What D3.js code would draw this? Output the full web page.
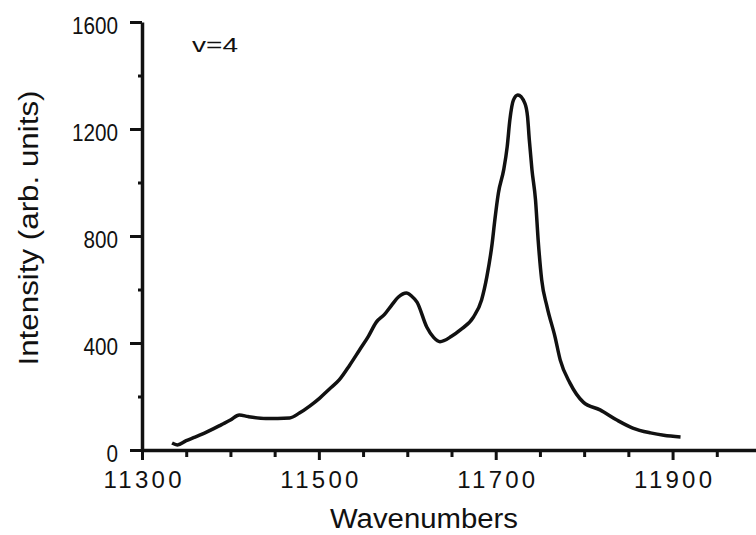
<!DOCTYPE html>
<html>
<head>
<meta charset="utf-8">
<script src="https://cdn.jsdelivr.net/npm/d3@7"></script>
<style>
  body { margin: 0; background: #fff; }
  svg text { font-family: "Liberation Sans Narrow", "Arial Narrow", "Liberation Sans", Arial, sans-serif; fill: #111; }
</style>
</head>
<body>
<div id="chart"></div>
<script>
// spectrum, wavenumber / intensity
const wavenumbers = [
  11334, 11340, 11350, 11360, 11370, 11380, 11390, 11400, 11410, 11420,
  11440, 11467, 11478, 11490, 11501, 11512, 11523, 11535, 11546, 11556,
  11565, 11574, 11582, 11590, 11599, 11605, 11611, 11622, 11630, 11637,
  11650, 11660, 11675, 11684, 11690, 11696, 11699, 11703, 11709, 11713,
  11716, 11720, 11725, 11733, 11736, 11738, 11741, 11745, 11748, 11752,
  11758, 11767, 11773, 11784, 11799, 11818, 11837, 11855, 11875, 11890,
  11909,
];
const intensity = [
  26, 19, 35, 48, 62, 78, 95, 112, 131, 125,
  118, 120, 138, 165, 194, 228, 262, 318, 374, 425,
  478, 506, 540, 572, 587, 575, 553, 460, 420, 405,
  425, 449, 498, 561, 648, 773, 860, 960, 1047, 1134,
  1234, 1308, 1327, 1296, 1246, 1159, 1047, 935, 785, 636,
  536, 424, 336, 250, 179, 150, 112, 82, 64, 55,
  49,
];
const xMajorTicks = [11300, 11500, 11700, 11900];
const xMinorTicks = [11350, 11400, 11450, 11550, 11600, 11650, 11750, 11800, 11850, 11950];
const yMajorTicks = [0, 400, 800, 1200, 1600];
const yMinorTicks = [200, 600, 1000, 1400];
const xTitle = 'Wavenumbers';
const yTitle = 'Intensity  (arb.  units)';
const panelLabel = 'v=4';

class Spectrum {
  constructor(_config, _x, _y) {
    this.config = {
      parentElement: _config.parentElement,
      containerWidth: 756,
      containerHeight: 535,
      x0: 142,
      x1: 761,
      y0: 450,
      y1: 22,
    };
    this.data = _x.map((d, i) => ({ wn: d, val: _y[i] }));
    this.initVis();
  }

  initVis() {
    const vis = this;
    const c = vis.config;

    vis.svg = d3.select(c.parentElement).append('svg')
      .attr('width', c.containerWidth)
      .attr('height', c.containerHeight);

    vis.xScale = d3.scaleLinear().domain([11300, 12000]).range([c.x0, c.x1]);
    vis.yScale = d3.scaleLinear().domain([0, 1600]).range([c.y0, c.y1]);

    // minor ticks first, then main axes on top
    vis.svg.append('g')
      .attr('transform', `translate(0,${c.y0})`)
      .call(d3.axisBottom(vis.xScale).tickValues(xMinorTicks).tickSize(7).tickFormat(''))
      .call((g) => g.select('.domain').remove());

    vis.svg.append('g')
      .attr('transform', `translate(${c.x0},0)`)
      .call(d3.axisLeft(vis.yScale).tickValues(yMinorTicks).tickSize(4).tickFormat(''))
      .call((g) => g.select('.domain').remove());

    const xAxisG = vis.svg.append('g')
      .attr('transform', `translate(0,${c.y0})`)
      .call(d3.axisBottom(vis.xScale).tickValues(xMajorTicks).tickFormat(d3.format('d'))
        .tickSize(10).tickSizeOuter(0).tickPadding(28));
    xAxisG.selectAll('text')
      .attr('font-size', 24)
      .attr('dy', 0)
      .attr('textLength', 78)
      .attr('lengthAdjust', 'spacing');

    const yAxisG = vis.svg.append('g')
      .attr('transform', `translate(${c.x0},0)`)
      .call(d3.axisLeft(vis.yScale).tickValues(yMajorTicks).tickFormat(d3.format('d'))
        .tickSize(12).tickSizeOuter(0).tickPadding(12));
    yAxisG.selectAll('text')
      .attr('font-size', 23)
      .attr('dy', '0.5em')
      .attr('textLength', (d) => String(d).length * 11.5)
      .attr('lengthAdjust', 'spacingAndGlyphs');

    vis.svg.selectAll('.domain').attr('stroke-width', 3.5).attr('stroke', '#111');
    vis.svg.selectAll('.tick line').attr('stroke-width', 3).attr('stroke', '#111');
    vis.svg.selectAll('.tick text').attr('fill', '#111');

    vis.svg.append('text')
      .attr('x', 424)
      .attr('y', 528)
      .attr('text-anchor', 'middle')
      .attr('font-size', 27)
      .attr('textLength', 188)
      .attr('lengthAdjust', 'spacingAndGlyphs')
      .text(xTitle);

    vis.svg.append('text')
      .attr('transform', 'translate(38, 228) rotate(-90)')
      .attr('text-anchor', 'middle')
      .attr('font-size', 27)
      .attr('textLength', 275)
      .attr('lengthAdjust', 'spacingAndGlyphs')
      .text(yTitle);

    vis.svg.append('text')
      .attr('x', 192)
      .attr('y', 52)
      .attr('font-size', 21)
      .attr('textLength', 46)
      .attr('lengthAdjust', 'spacingAndGlyphs')
      .text(panelLabel);

    vis.renderVis();
  }

  renderVis() {
    const vis = this;
    const line = d3.line()
      .x((d) => vis.xScale(d.wn))
      .y((d) => vis.yScale(d.val))
      .curve(d3.curveMonotoneX);

    vis.svg.append('path')
      .datum(vis.data)
      .attr('d', line)
      .attr('fill', 'none')
      .attr('stroke', '#111')
      .attr('stroke-width', 3.5)
      .attr('stroke-linejoin', 'round');
  }
}

new Spectrum({ parentElement: '#chart' }, wavenumbers, intensity);
</script>
</body>
</html>
